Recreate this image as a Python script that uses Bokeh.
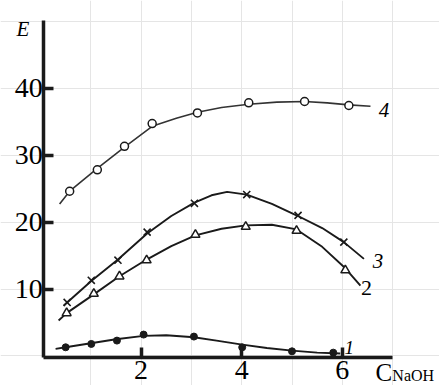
from bokeh.plotting import figure
from bokeh.models import Label, FixedTicker, Range1d, LinearAxis
from bokeh.embed import file_html
from bokeh.resources import INLINE

# ---- data ----
# curve 4 (open circles)
x4 = [0.58, 1.13, 1.67, 2.22, 3.12, 4.14, 5.25, 6.13]
y4 = [24.6, 27.8, 31.3, 34.7, 36.3, 37.8, 38.0, 37.4]
lx4 = [0.38, 0.58, 1.13, 1.67, 2.22, 2.7, 3.12, 3.6, 4.14, 4.7, 5.25, 5.7, 6.13, 6.56]
ly4 = [22.7, 24.6, 28.0, 31.2, 34.3, 35.5, 36.4, 37.1, 37.6, 37.9, 38.0, 37.8, 37.5, 37.3]

# curve 3 (crosses)
x3 = [0.53, 1.01, 1.54, 2.12, 3.06, 4.10, 5.12, 6.03]
y3 = [8.0, 11.3, 14.3, 18.5, 22.8, 24.1, 21.0, 17.0]
lx3 = [0.46, 0.53, 1.01, 1.54, 2.12, 2.6, 3.06, 3.4, 3.71, 4.1, 4.6, 5.12, 5.6, 6.03, 6.43]
ly3 = [7.5, 8.0, 11.2, 14.4, 18.3, 20.9, 22.9, 24.0, 24.5, 24.1, 22.7, 20.9, 19.1, 17.0, 14.5]

# curve 2 (open triangles)
x2 = [0.52, 1.06, 1.57, 2.11, 3.08, 4.08, 5.09, 6.06]
y2 = [6.4, 9.3, 11.9, 14.3, 18.1, 19.3, 18.7, 12.8]
lx2 = [0.36, 0.52, 1.06, 1.57, 2.11, 2.6, 3.08, 3.6, 4.08, 4.6, 5.09, 5.6, 6.06, 6.36]
ly2 = [5.3, 6.4, 9.2, 11.9, 14.4, 16.4, 18.0, 19.0, 19.5, 19.6, 18.9, 16.3, 13.1, 10.5]

# curve 1 (filled circles)
x1 = [0.50, 1.01, 1.52, 2.05, 3.05, 4.01, 5.00, 5.82]
y1 = [1.3, 1.8, 2.3, 3.2, 2.9, 1.3, 0.7, 0.5]
lx1 = [0.30, 0.5, 1.0, 1.5, 2.05, 2.5, 3.05, 3.5, 4.01, 4.5, 5.0, 5.5, 5.96]
ly1 = [1.07, 1.3, 1.9, 2.5, 3.0, 3.1, 2.8, 2.3, 1.7, 1.2, 0.8, 0.5, 0.37]

x_ticks = [2, 4, 6]
y_ticks = [10, 20, 30, 40]

curve_names = ["4", "3", "2", "1"]

INK = "#1a1a1a"
SERIF = "Liberation Serif"

p = figure(width=439, height=385, output_backend="svg", toolbar_location=None,
           x_range=Range1d(-0.795, 7.932), y_range=Range1d(-4.405, 53.08),
           x_axis_location=None, y_axis_location=None,
           min_border=0, min_border_left=0, min_border_right=0,
           min_border_top=0, min_border_bottom=0)
p.outline_line_color = None
p.background_fill_color = "white"
p.border_fill_color = "white"

xaxis = LinearAxis(fixed_location=-0.224, bounds=(0.066, 7.0),
                   ticker=FixedTicker(ticks=x_ticks))
yaxis = LinearAxis(fixed_location=0.066, bounds=(-0.224, 50.1),
                   ticker=FixedTicker(ticks=y_ticks))
for ax in (xaxis, yaxis):
    ax.axis_line_width = 3.5
    ax.axis_line_color = INK
    ax.major_tick_line_width = 3.5
    ax.major_tick_line_color = INK
    ax.major_tick_in = 10
    ax.major_tick_out = 0
    ax.minor_tick_line_color = None
    ax.major_label_text_font = SERIF
    ax.major_label_text_font_size = "28px"
    ax.major_label_text_color = "black"
xaxis.major_label_standoff = 4
yaxis.major_label_standoff = 1
p.add_layout(xaxis, "below")
p.add_layout(yaxis, "left")

# curves
p.line(lx4, ly4, line_color="#333333", line_width=1.6)
p.scatter(x4, y4, marker="circle", size=8, line_color=INK, line_width=1.5, fill_color="white")

p.line(lx3, ly3, line_color=INK, line_width=1.9)
p.scatter(x3, y3, marker="x", size=10, line_color=INK, line_width=1.6)

p.line(lx2, ly2, line_color=INK, line_width=1.9)
p.scatter(x2, y2, marker="triangle", size=9, line_color=INK, line_width=1.5, fill_color="white")

p.line(lx1, ly1, line_color=INK, line_width=1.9)
p.scatter(x1, y1, marker="circle", size=7, line_color=INK, fill_color=INK)

# curve number labels
lab_pos = {"4": (6.83, 36.7, "italic", "21px"),
           "3": (6.71, 14.2, "italic", "21px"),
           "2": (6.48, 10.2, "normal", "22px"),
           "1": (6.14, 1.3, "italic", "19px")}
for name in curve_names:
    lx, ly, style, fs = lab_pos[name]
    p.add_layout(Label(x=lx, y=ly, text=name, text_font=SERIF, text_font_style=style,
                       text_font_size=fs, text_align="center", text_baseline="middle",
                       text_color="black"))

# axis titles
p.add_layout(Label(x=-0.35, y=48.75, text="E", text_font=SERIF, text_font_style="italic",
                   text_font_size="21px", text_align="center", text_baseline="middle",
                   text_color="black"))
p.add_layout(Label(x=6.66, y=-2.4, text="C", text_font=SERIF, text_font_size="25px",
                   text_align="left", text_baseline="middle", text_color="black"))
p.add_layout(Label(x=6.995, y=-2.85, text="NaOH", text_font=SERIF, text_font_size="16px",
                   text_align="left", text_baseline="middle", text_color="black"))

open("out.html", "w").write(file_html(p, INLINE))
